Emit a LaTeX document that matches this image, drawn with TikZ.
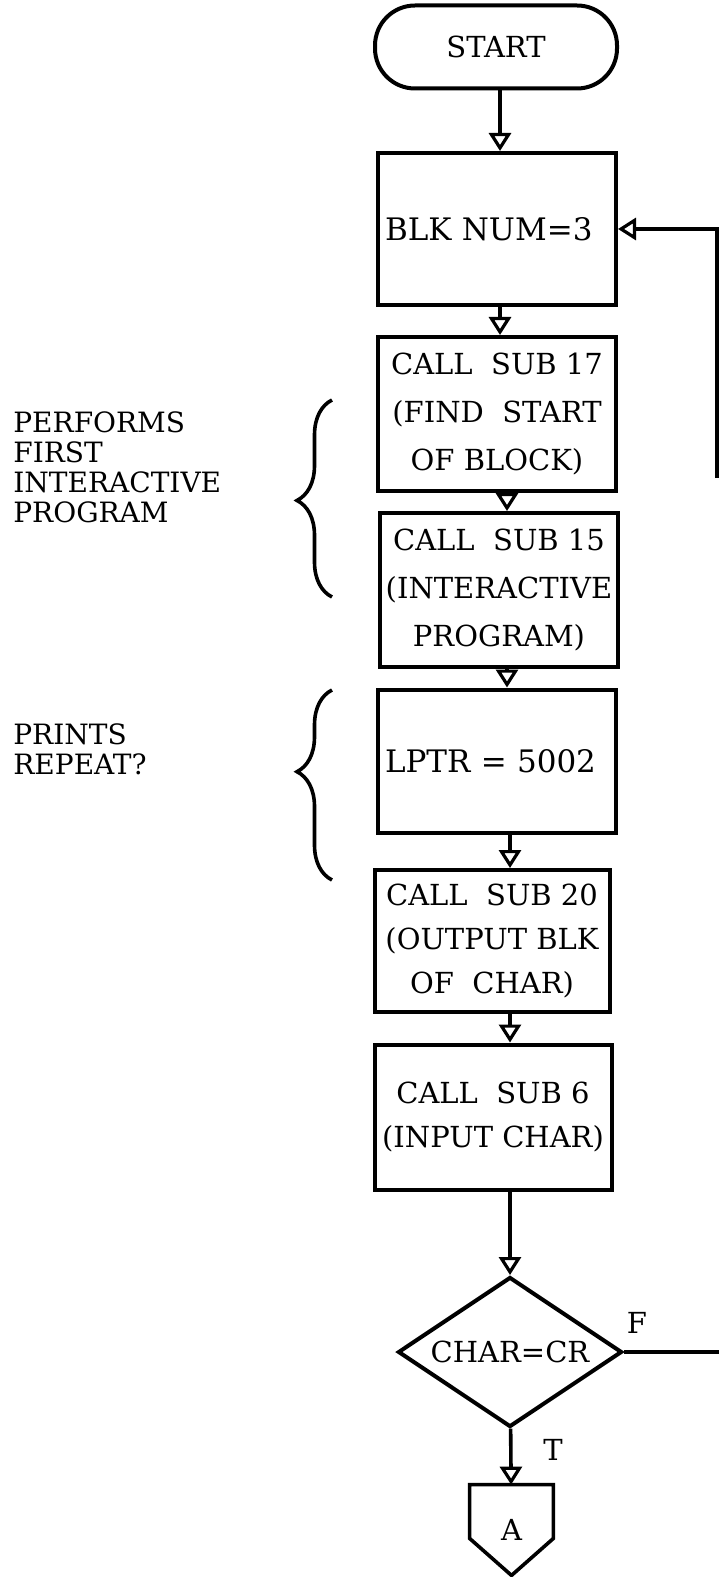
\documentclass[tikz,border=0pt]{standalone}
\usepackage{fontspec}
\setmainfont{DejaVu Serif}
\usetikzlibrary{shapes.geometric}
\usetikzlibrary{arrows.meta}
\usetikzlibrary{decorations.pathreplacing}

\begin{document}
\begin{tikzpicture}[x=0.5pt, y=-0.5pt,
            flowline/.style={color=black, line width=1.8pt},
            flowarrow/.style={flowline, -{Triangle[open, length=9pt, width=11pt, line width=1.6pt]}},
            procbox/.style={draw, line width=2pt, minimum width=119pt, minimum height=76pt, inner sep=3pt, align=center, font=\fontsize{14.5}{24}\selectfont},
            leftbox/.style={procbox, text width=112pt, align=left},
            terminal/.style={draw, line width=2pt, rounded corners=20pt, minimum width=121pt, minimum height=41.5pt, font=\fontsize{14.5}{18}\selectfont},
            decision/.style={diamond, draw, line width=2pt, aspect=1.5, minimum width=112pt, minimum height=75pt, inner sep=0pt, font=\fontsize{14.5}{18}\selectfont},
            note/.style={align=left, inner sep=0pt, font=\fontsize{14}{15}\selectfont},
            flag/.style={inner sep=0pt, font=\fontsize{14.5}{18}\selectfont},
            sidebrace/.style={color=black, line width=1.8pt, decorate, decoration={brace, amplitude=17.5pt}}
        ]
            \useasboundingbox (0,0) rectangle (719,1577);

            % main column
            \node[terminal] (start) at (496,47) {START};
            \node[leftbox, minimum height=76pt, font=\fontsize{15.5}{24}\selectfont] (blk) at (497,229) {BLK NUM=3};
            \node[procbox, minimum height=77pt] (sub17) at (497,414) {CALL\ \ SUB 17\\(FIND\ \ START\\OF BLOCK)};
            \node[procbox, minimum height=77pt] (sub15) at (499,590) {CALL\ \ SUB 15\\(INTERACTIVE\\PROGRAM)};
            \node[leftbox, minimum height=71.5pt, font=\fontsize{15.5}{24}\selectfont] (lptr) at (497,761) {LPTR = 5002};
            \node[procbox, minimum height=71pt, minimum width=117.5pt, font=\fontsize{14.5}{22}\selectfont] (sub20) at (492,941) {CALL\ \ SUB 20\\(OUTPUT BLK\\OF\ \ CHAR)};
            \node[procbox, minimum height=72.5pt, minimum width=118.5pt, font=\fontsize{14.5}{22}\selectfont] (sub6) at (493,1117) {CALL\ \ SUB 6\\(INPUT CHAR)};
            \node[decision] (dia) at (510,1352) {CHAR=CR};

            % off-page connector
            \node[flag, minimum width=41.5pt, minimum height=45pt] (conA) at (511.5,1530) {A};
            \draw[flowline, line join=miter] (conA.north west) -- (conA.north east) -- ([yshift=18.5pt]conA.south east) -- (conA.south) -- ([yshift=18.5pt]conA.south west) -- cycle;

            % arrows
            \draw[flowarrow] ([xshift=2pt]start.south) -- ([xshift=2pt]start.south |- blk.north);
            \draw[flowarrow] ([xshift=1.5pt]blk.south) -- ([xshift=1.5pt]blk.south |- sub17.north);
            \draw[flowarrow] ([xshift=5pt]sub17.south) -- ([xshift=5pt]sub17.south |- sub15.north);
            \draw[flowarrow] ([xshift=4pt]sub15.south) -- ([xshift=4pt]sub15.south |- lptr.north);
            \draw[flowarrow] ([xshift=6.5pt]lptr.south) -- ([xshift=6.5pt]lptr.south |- sub20.north);
            \draw[flowarrow] ([xshift=9pt]sub20.south) -- ([xshift=9pt]sub20.south |- sub6.north);
            \draw[flowarrow] (dia.north |- sub6.south) -- (dia);
            \draw[flowarrow] (dia) -- (conA);

            % branch labels
            \node[flag] (tlab) at (553,1450) {T};
            \node[flag] (flab) at (637,1323) {F};

            % return line (as far as it shows)
            \coordinate (fend) at (719,1352);
            \coordinate (fbot) at (717,478);
            \draw[flowline] (dia.east) -- (dia.east -| fend);
            \draw[flowarrow] (fbot) |- (blk);

            % notes on the left
            \node[note, anchor=west] (perf) at (13,467) {PERFORMS\\FIRST\\INTERACTIVE\\PROGRAM};
            \node[note, anchor=west] (prnt) at (13,749) {PRINTS\\REPEAT?};
            \draw[sidebrace, decoration={aspect=0.49}] (332,597) -- (332,400);
            \draw[sidebrace, decoration={aspect=0.57}] (332,880) -- (332,690);

        \end{tikzpicture}
\end{document}
